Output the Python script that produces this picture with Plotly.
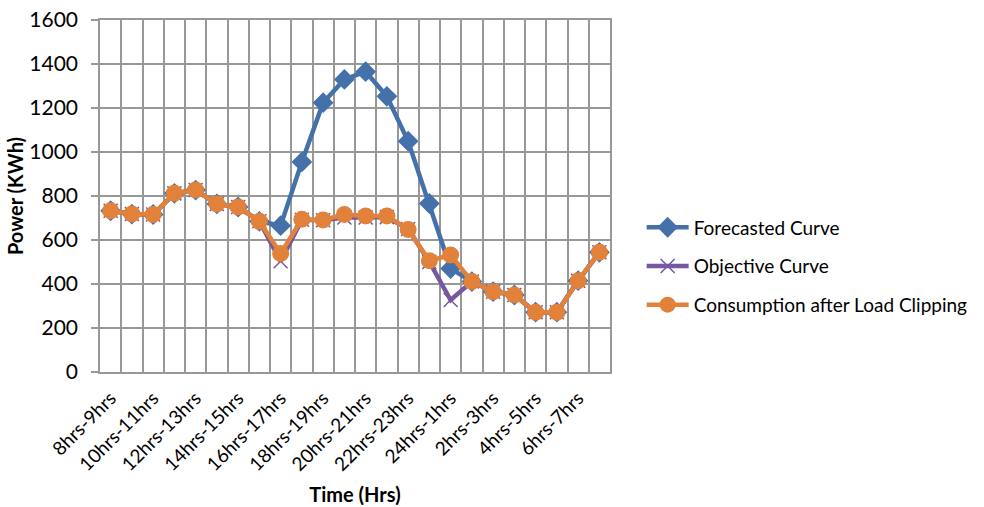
import plotly.graph_objects as go

categories = ["8hrs-9hrs", "9hrs-10hrs", "10hrs-11hrs", "11hrs-12hrs", "12hrs-13hrs", "13hrs-14hrs",
              "14hrs-15hrs", "15hrs-16hrs", "16hrs-17hrs", "17hrs-18hrs", "18hrs-19hrs", "19hrs-20hrs",
              "20hrs-21hrs", "21hrs-22hrs", "22hrs-23hrs", "23hrs-24hrs", "24hrs-1hrs", "1hrs-2hrs",
              "2hrs-3hrs", "3hrs-4hrs", "4hrs-5hrs", "5hrs-6hrs", "6hrs-7hrs", "7hrs-8hrs"]

forecasted = [733, 718, 716, 812, 827, 764, 750, 685, 665, 955, 1224, 1330, 1365, 1253, 1049, 766,
              470, 411, 365, 350, 272, 272, 415, 544]
objective = [733, 718, 716, 812, 827, 764, 750, 685, 503, 692, 690, 702, 702, 704, 650, 500,
             327, 411, 365, 350, 272, 272, 415, 544]
consumption = [733, 718, 716, 812, 827, 764, 750, 685, 539, 694, 691, 716, 709, 709, 648, 506,
               532, 411, 365, 350, 272, 272, 415, 544]

y_ticks = [0, 200, 400, 600, 800, 1000, 1200, 1400, 1600]

idx = list(range(len(categories)))
label_idx = idx[::2]
label_text = [categories[i] for i in label_idx]
boundaries = [i - 0.5 for i in idx] + [len(categories) - 0.5]

BLUE = "#4471AA"
PURPLE = "#7558A0"
ORANGE = "#E2823A"
GRID = "#989898"
FONT = "Lato"

fig = go.Figure()
fig.add_trace(go.Scatter(
    x=idx, y=forecasted, name="Forecasted Curve", mode="lines+markers",
    line=dict(color=BLUE, width=4.5), legendgroup="a",
    marker=dict(symbol="diamond", size=16, color=BLUE)))
fig.add_trace(go.Scatter(
    x=idx, y=objective, name="Objective Curve", mode="lines+markers",
    line=dict(color=PURPLE, width=4.5), legendgroup="b",
    marker=dict(symbol="x-thin", size=14, line=dict(color=PURPLE, width=1.5))))
fig.add_trace(go.Scatter(
    x=idx, y=consumption, name="Consumption after Load Clipping", mode="lines+markers",
    line=dict(color=ORANGE, width=4.5), legendgroup="c",
    marker=dict(symbol="circle", size=17, color=ORANGE)))

fig.update_layout(
    width=984, height=507,
    margin=dict(l=100, r=373, t=20, b=135),
    paper_bgcolor="white", plot_bgcolor="white",
    font=dict(family=FONT, size=19, color="#000000"),
    legend=dict(x=1.06, y=0.30, xanchor="left", yanchor="middle",
                font=dict(size=19), tracegroupgap=11, itemwidth=42,
                bgcolor="rgba(0,0,0,0)"),
    xaxis=dict(
        range=[-0.5, len(categories) - 0.5], automargin=False,
        tickmode="array", tickvals=label_idx, ticktext=label_text,
        tickangle=-45, ticks="", showgrid=False, zeroline=False,
        showline=True, linecolor=GRID, linewidth=1.5, mirror=True,
        ticklabelstandoff=6,
        minor=dict(tickmode="array", tickvals=boundaries, showgrid=True,
                   gridcolor=GRID, gridwidth=1.5, ticks=""),
        title=dict(text="<b>Time (Hrs)</b>", font=dict(size=20), standoff=14),
        tickfont=dict(size=19),
    ),
    yaxis=dict(
        range=[0, 1600], tickmode="array", tickvals=y_ticks, automargin=False,
        showgrid=True, gridcolor=GRID, gridwidth=1.5, zeroline=False,
        showline=True, linecolor=GRID, linewidth=1.5, mirror=True,
        ticks="outside", ticklen=7, tickcolor=GRID, tickwidth=1.5,
        ticklabelstandoff=9,
        title=dict(text="<b>Power (KWh)</b>", font=dict(size=20), standoff=0),
        tickfont=dict(size=21),
    ),
)

fig.write_html("out.html")
